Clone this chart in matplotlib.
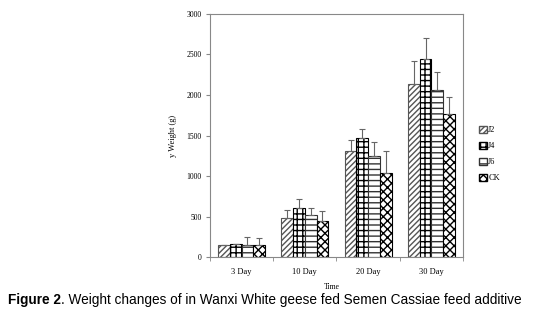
import numpy as np
import matplotlib.pyplot as plt
from matplotlib.patches import Patch

days = ["3 Day", "10 Day", "20 Day", "30 Day"]
groups = ["J2", "J4", "J6", "CK"]
j2 = [148, 479, 1310, 2131]
j4 = [157, 603, 1470, 2450]
j6 = [148, 516, 1251, 2057]
ck = [148, 446, 1041, 1760]
j2_err = [5, 99, 131, 289]
j4_err = [8, 112, 112, 251]
j6_err = [96, 91, 170, 232]
ck_err = [83, 120, 264, 215]

plt.rcParams['hatch.linewidth'] = 1.0
serif = 'Liberation Serif'

fig = plt.figure(figsize=(5.39, 3.15), dpi=100)
ax = fig.add_axes([0.3896, 0.184, 0.4694, 0.7716])

vals = [j2, j4, j6, ck]
errs = [j2_err, j4_err, j6_err, ck_err]
hatches = ['//////', '+++', '---', 'xxxx']
edges = ['#555555', 'black', '#333333', 'black']
x = np.arange(len(days))
w = 0.185
handles = []
for k in range(4):
    pos = x + (k - 1.5) * w
    ax.bar(pos, vals[k], w, color='white', edgecolor=edges[k], hatch=hatches[k], linewidth=0.8)
    ax.errorbar(pos, vals[k], yerr=[np.zeros(4), errs[k]], fmt='none', ecolor='#666666',
                elinewidth=0.8, capsize=2, capthick=0.8)
    handles.append(Patch(facecolor='white', edgecolor=edges[k], hatch=hatches[k], label=groups[k]))

ax.set_xlim(-0.5, 3.5)
ax.set_ylim(0, 3000)
ax.set_yticks(np.arange(0, 3001, 500))
ax.set_yticklabels([str(v) for v in range(0, 3001, 500)], fontfamily=serif, fontsize=5.5)
ax.set_xticks(x)
ax.set_xticklabels(days, fontfamily=serif, fontsize=6)
ax.set_xticks(np.arange(-0.5, 3.6, 1), minor=True)
ax.tick_params(axis='x', which='major', length=0, pad=8)
ax.tick_params(axis='x', which='minor', length=3, color='#888888')
ax.tick_params(axis='y', length=3, color='#888888', pad=3)
for s in ax.spines.values():
    s.set_color('#888888')
    s.set_linewidth(0.8)

ax.set_ylabel("y Weight (g)", fontfamily=serif, fontsize=6, labelpad=7)
fig.text(0.615, 1 - 287 / 315, "Time", fontfamily=serif, fontsize=5.5, ha='center', va='center')

fig.legend(handles=handles, loc='center left', bbox_to_anchor=(0.875, 0.511), frameon=False,
           prop={'family': serif, 'size': 6}, handlelength=0.9, handleheight=0.9,
           handletextpad=0.2, labelspacing=0.9)

t1 = fig.text(0.015, 1 - 300 / 315, "Figure 2", fontfamily='Liberation Sans', fontweight='bold',
              fontsize=9.85, va='center')
r = fig.canvas.get_renderer()
bb = t1.get_window_extent(r)
fig.text(bb.x1 / fig.bbox.width, 1 - 300 / 315,
         ". Weight changes of in Wanxi White geese fed Semen Cassiae feed additive",
         fontfamily='Liberation Sans', fontsize=9.85, va='center')

fig.savefig("out.png", dpi=100)
